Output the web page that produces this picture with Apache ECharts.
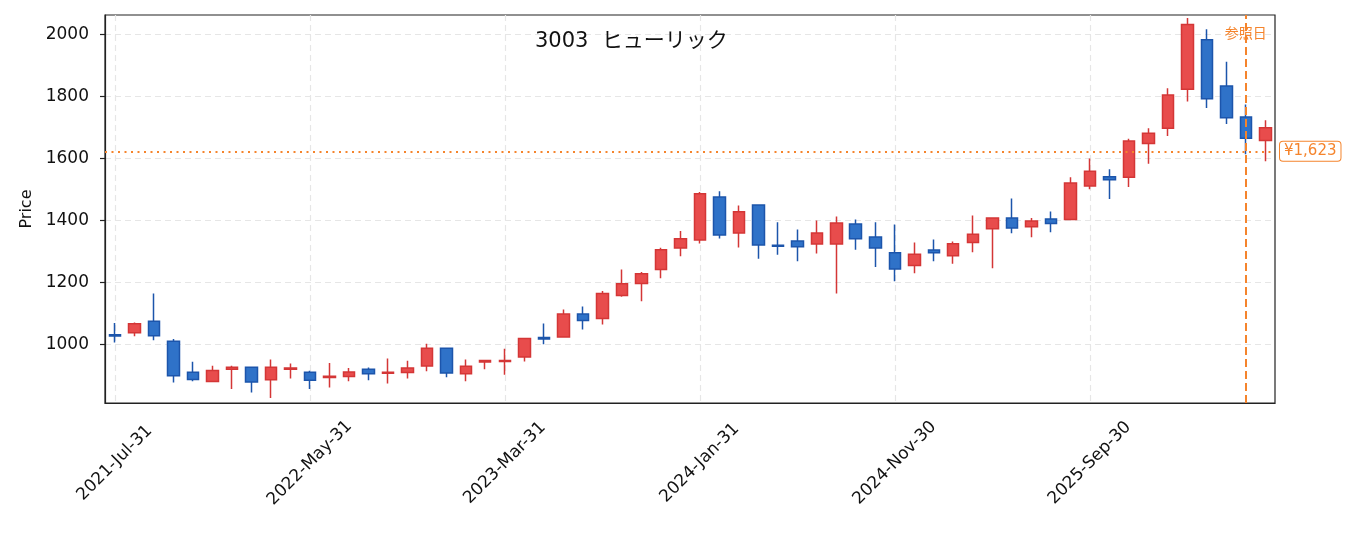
<!DOCTYPE html>
<html>
<head>
<meta charset="utf-8">
<title>3003 ヒューリック</title>
<script src="https://cdn.jsdelivr.net/npm/echarts@6.0.0/dist/echarts.min.js"></script>
<style>
  html, body { margin: 0; padding: 0; background: #fff; }
  #chart { width: 1355px; height: 533px; }
</style>
</head>
<body>
<div id="chart"></div>
<script>
// 月足データ（目視で読み取り）
var dates = [
  '2021-Jul-31', '2021-Aug-31', '2021-Sep-30', '2021-Oct-31', '2021-Nov-30', '2021-Dec-31',
  '2022-Jan-31', '2022-Feb-28', '2022-Mar-31', '2022-Apr-30', '2022-May-31', '2022-Jun-30',
  '2022-Jul-31', '2022-Aug-31', '2022-Sep-30', '2022-Oct-31', '2022-Nov-30', '2022-Dec-31',
  '2023-Jan-31', '2023-Feb-28', '2023-Mar-31', '2023-Apr-30', '2023-May-31', '2023-Jun-30',
  '2023-Jul-31', '2023-Aug-31', '2023-Sep-30', '2023-Oct-31', '2023-Nov-30', '2023-Dec-31',
  '2024-Jan-31', '2024-Feb-29', '2024-Mar-31', '2024-Apr-30', '2024-May-31', '2024-Jun-30',
  '2024-Jul-31', '2024-Aug-31', '2024-Sep-30', '2024-Oct-31', '2024-Nov-30', '2024-Dec-31',
  '2025-Jan-31', '2025-Feb-28', '2025-Mar-31', '2025-Apr-30', '2025-May-31', '2025-Jun-30',
  '2025-Jul-31', '2025-Aug-31', '2025-Sep-30', '2025-Oct-31', '2025-Nov-30', '2025-Dec-31',
  '2026-Jan-31', '2026-Feb-28', '2026-Mar-31', '2026-Apr-30', '2026-May-31', '2026-Jun-30'
];

var opens = [
  1032, 1038, 1075, 1011, 911, 881, 921, 927, 887, 921,
  911, 894, 897, 921, 908, 910, 931, 988, 906, 944,
  946, 960, 1023, 1025, 1099, 1084, 1158, 1197, 1242, 1311,
  1337, 1476, 1360, 1450, 1320, 1334, 1324, 1324, 1389, 1347,
  1296, 1255, 1305, 1286, 1329, 1373, 1408, 1380, 1405, 1403,
  1511, 1541, 1539, 1648, 1697, 1823, 1982, 1833, 1733, 1658
];
var closes = [
  1028, 1067, 1029, 900, 888, 917, 927, 880, 927, 925,
  885, 898, 912, 906, 911, 925, 988, 909, 930, 949,
  949, 1020, 1018, 1099, 1078, 1165, 1196, 1228, 1306, 1341,
  1486, 1353, 1428, 1321, 1317, 1315, 1360, 1392, 1341, 1311,
  1244, 1291, 1296, 1325, 1356, 1408, 1376, 1398, 1390, 1521,
  1559, 1531, 1656, 1681, 1804, 2031, 1792, 1731, 1665, 1699
];
var lows = [
  1007, 1027, 1014, 878, 882, 881, 857, 846, 828, 891,
  857, 862, 882, 885, 875, 891, 914, 895, 882, 921,
  903, 946, 1001, 1024, 1049, 1065, 1154, 1140, 1214, 1285,
  1326, 1342, 1313, 1277, 1290, 1269, 1294, 1165, 1306, 1250,
  1204, 1230, 1269, 1261, 1298, 1246, 1359, 1346, 1362, 1402,
  1501, 1469, 1508, 1583, 1672, 1783, 1762, 1711, 1613, 1591
];
var highs = [
  1070, 1071, 1165, 1018, 945, 932, 932, 928, 952, 939,
  916, 941, 925, 926, 955, 948, 1003, 989, 952, 950,
  987, 1021, 1068, 1113, 1123, 1173, 1242, 1234, 1312, 1366,
  1492, 1494, 1448, 1451, 1394, 1371, 1400, 1413, 1403, 1394,
  1387, 1329, 1339, 1332, 1416, 1409, 1471, 1408, 1429, 1539,
  1600, 1565, 1663, 1697, 1826, 2052, 2016, 1911, 1774, 1723
];

var yTicks = [1000, 1200, 1400, 1600, 1800, 2000];
var refPrice = 1623;
var refDate = '2026-May-31';

// ECharts の candlestick は [open, close, low, high]
var ohlc = [];
for (var i = 0; i < dates.length; i++) {
  ohlc.push([opens[i], closes[i], lows[i], highs[i]]);
}

var orange = '#f5842c';
var font = 'DejaVu Sans, Noto Sans CJK JP, sans-serif';

var myChart = echarts.init(document.getElementById('chart'));

var option = {
  animation: false,
  backgroundColor: '#fff',
  title: {
    text: '3003  ヒューリック',
    left: 530,
    top: 26,
    textStyle: {
      fontFamily: font,
      fontSize: 21,
      fontWeight: 'normal',
      color: '#111'
    }
  },
  grid: {
    left: 105,
    right: 80,
    top: 15,
    bottom: 130,
    show: true,
    borderColor: '#222',
    borderWidth: 1.2
  },
  xAxis: {
    type: 'category',
    data: dates,
    boundaryGap: true,
    axisLine: { lineStyle: { color: '#222', width: 1.2 } },
    axisTick: {
      interval: 9,
      alignWithLabel: true,
      length: 5,
      lineStyle: { color: '#222', width: 1.2 }
    },
    axisLabel: {
      interval: 9,
      rotate: 45,
      align: 'center',
      verticalAlign: 'middle',
      margin: 60,
      fontFamily: font,
      fontSize: 17,
      color: '#111'
    },
    splitLine: {
      show: true,
      interval: 9,
      alignWithLabel: true,
      lineStyle: { color: '#e6e6e6', type: [6, 4], width: 1.2 }
    }
  },
  yAxis: {
    type: 'value',
    min: 812,
    max: 2062,
    name: 'Price',
    nameLocation: 'middle',
    nameGap: 69,
    nameTextStyle: { fontFamily: font, fontSize: 16, color: '#111' },
    axisLine: { show: true, lineStyle: { color: '#222', width: 1.2 } },
    axisTick: {
      show: true,
      length: 5,
      customValues: yTicks,
      lineStyle: { color: '#222', width: 1.2 }
    },
    axisLabel: {
      customValues: yTicks,
      margin: 16,
      fontFamily: font,
      fontSize: 17,
      color: '#111',
      formatter: function (v) { return String(v); }
    },
    splitLine: {
      show: true,
      lineStyle: { color: '#e6e6e6', type: [6, 4], width: 1.2 }
    }
  },
  series: [{
    name: '3003',
    type: 'candlestick',
    data: ohlc,
    barWidth: 12,
    itemStyle: {
      color: '#e84c4c',
      color0: '#2f72c8',
      borderColor: '#d43636',
      borderColor0: '#1c55ab',
      borderWidth: 1.5
    },
    markLine: {
      silent: true,
      symbol: 'none',
      data: [
        {
          yAxis: refPrice,
          lineStyle: { color: orange, type: [2, 4.5], width: 1.8 },
          label: {
            show: true,
            position: 'end',
            distance: 5,
            formatter: '¥' + refPrice.toLocaleString('en-US'),
            color: orange,
            fontFamily: font,
            fontSize: 15,
            backgroundColor: '#fff',
            borderColor: orange,
            borderWidth: 1,
            borderRadius: 3,
            padding: [2, 4]
          }
        },
        {
          xAxis: refDate,
          lineStyle: { color: orange, type: [8, 4], width: 2 },
          label: {
            show: true,
            position: 'end',
            offset: [0, 31],
            formatter: '参照日',
            color: orange,
            fontFamily: font,
            fontSize: 14
          }
        }
      ]
    }
  }]
};

myChart.setOption(option);
</script>
</body>
</html>
